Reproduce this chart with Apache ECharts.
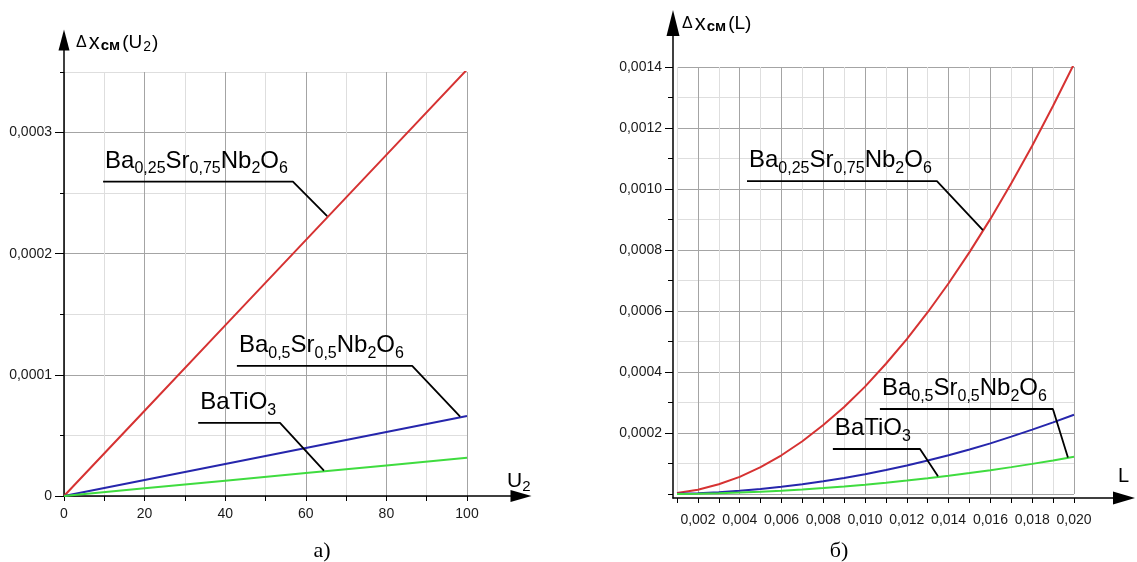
<!DOCTYPE html>
<html><head><meta charset="utf-8">
<script src="https://cdn.jsdelivr.net/npm/echarts@6/dist/echarts.min.js"></script>
<style>html,body{margin:0;padding:0;background:#fff}#c{width:1137px;height:562px}</style>
</head><body><div id="c"></div>
<script>
const FONT = '"Liberation Sans", Arial, sans-serif';
const SERIF = '"Liberation Serif", "Times New Roman", serif';

// ---- chart а): Δx_см(U2) ----
const uValues = [0, 20, 40, 60, 80, 100];
const uRed   = [0, 0.0000704, 0.0001408, 0.0002112, 0.0002816, 0.000352];
const uBlue  = [0, 0.0000132, 0.0000264, 0.0000396, 0.0000528, 0.000066];
const uGreen = [0, 0.0000063, 0.0000126, 0.0000189, 0.0000252, 0.0000315];
const uTickValues = [0, 20, 40, 60, 80, 100];
const uTickLabels = ['0', '20', '40', '60', '80', '100'];
const leftYTickValues = [0, 0.0001, 0.0002, 0.0003];
const leftYTickLabels = ['0', '0,0001', '0,0002', '0,0003'];

// ---- chart б): Δx_см(L) ----
const lValues = [0.001,0.002,0.003,0.004,0.005,0.006,0.007,0.008,0.009,0.010,0.011,0.012,0.013,0.014,0.015,0.016,0.017,0.018,0.019,0.020];
const lRed   = [0.0000035,0.000014,0.000032,0.000056,0.000088,0.000127,0.000173,0.000226,0.000285,0.000352,0.000427,0.000508,0.000596,0.000691,0.000793,0.000902,0.001019,0.001142,0.001273,0.00141];
const lBlue  = [0.0000007,0.0000026,0.0000059,0.0000104,0.0000163,0.0000234,0.0000319,0.0000416,0.0000527,0.000065,0.0000787,0.0000936,0.00011,0.000127,0.000146,0.000166,0.000188,0.000211,0.000235,0.00026];
const lGreen = [0.0000003,0.0000012,0.0000027,0.0000049,0.0000076,0.000011,0.0000149,0.0000195,0.0000247,0.0000305,0.0000369,0.0000439,0.0000515,0.0000598,0.0000686,0.0000781,0.0000881,0.0000988,0.00011,0.000122];
const lTickValues = [0.002,0.004,0.006,0.008,0.010,0.012,0.014,0.016,0.018,0.020];
const lTickLabels = ['0,002','0,004','0,006','0,008','0,010','0,012','0,014','0,016','0,018','0,020'];
const rightYTickValues = [0.0002,0.0004,0.0006,0.0008,0.0010,0.0012,0.0014];
const rightYTickLabels = ['0,0002','0,0004','0,0006','0,0008','0,0010','0,0012','0,0014'];

// ---- annotations (data coordinates: underline start, underline end, leader end) ----
const annLeft25 = [[9.7, 0.0002595], [56.8, 0.0002595], [65.3, 0.000231]];
const annLeft05 = [[42.9, 0.0001074], [86.4, 0.0001074], [98.3, 0.0000655]];
const annLeftBT = [[33.3, 0.0000603], [53.6, 0.0000603], [64.5, 0.0000210]];
const annRight25 = [[0.00435, 0.001026], [0.01344, 0.001026], [0.01564, 0.000865]];
const annRight05 = [[0.01071, 0.0002787], [0.01899, 0.0002787], [0.01971, 0.000120]];
const annRightBT = [[0.00846, 0.0001475], [0.01263, 0.0001475], [0.01349, 0.000058]];

const F25 = '{m|Ba}{s|0,25}{m|Sr}{s|0,75}{m|Nb}{s|2}{m|O}{s|6}';
const F05 = '{m|Ba}{s|0,5}{m|Sr}{s|0,5}{m|Nb}{s|2}{m|O}{s|6}';
const FBT = '{m|BaTiO}{s|3}';

const RED = '#d63232', BLUE = '#2626ac', GREEN = '#3fdc3f';
const DARK = '#a4a4a4', LIGHT = '#dedede';

function fmt(values, labels) {
  return function (v) {
    for (let i = 0; i < values.length; i++) {
      if (Math.abs(values[i] - v) < Math.abs(values[1] - values[0]) * 1e-3 + 1e-12) return labels[i];
    }
    return '';
  };
}
function pairs(xs, ys) { return xs.map((x, i) => [x, ys[i]]); }

const labelStyle = { fontFamily: FONT, fontSize: 14, color: '#1a1a1a' };
function overlayAxis(size) {
  return {
    type: 'value', min: 0, max: 1,
    axisLine: { show: true, onZero: false, symbol: ['none', 'triangle'], symbolSize: size,
      lineStyle: { color: '#000', width: 1.5 } },
    axisTick: { show: false }, axisLabel: { show: false }, splitLine: { show: false }
  };
}
function curve(name, data, color, xi, yi) {
  return { name, type: 'line', data, xAxisIndex: xi, yAxisIndex: yi, showSymbol: false, symbol: 'none',
    lineStyle: { color, width: 2 }, itemStyle: { color }, silent: true, animation: false, z: 3 };
}
function ann(pts, xi, yi) {
  return { type: 'line', data: pts, xAxisIndex: xi, yAxisIndex: yi, symbol: 'none', silent: true,
    animation: false, lineStyle: { color: '#000', width: 1.8 }, z: 5 };
}

const chart = echarts.init(document.getElementById('c'), null, { renderer: 'canvas' });
chart.setOption({
  backgroundColor: '#fff',
  animation: false,
  grid: [
    { left: 64, top: 72, width: 403, height: 424 },
    { left: 64, top: 40, width: 457, height: 456 },
    { left: 677, top: 67, width: 397, height: 427 },
    { left: 673, top: 23, width: 451, height: 475 }
  ],
  xAxis: [
    { gridIndex: 0, type: 'value', position: 'bottom', min: 0, max: 100, interval: 10,
      axisLine: { show: false, onZero: false }, axisTick: { show: true, length: 5, lineStyle: { color: '#000' } },
      axisLabel: Object.assign({ margin: 11, formatter: fmt(uTickValues, uTickLabels) }, labelStyle),
      splitLine: { show: true, lineStyle: { color: [DARK, LIGHT], width: 1 } } },
    Object.assign({ gridIndex: 1, position: 'bottom' }, overlayAxis([12, 21])),
    { gridIndex: 2, type: 'value', position: 'bottom', min: 0.001, max: 0.020, interval: 0.001, offset: 4,
      axisLine: { show: false, onZero: false }, axisTick: { show: true, length: 5, lineStyle: { color: '#000' } },
      axisLabel: Object.assign({ margin: 15, formatter: fmt(lTickValues, lTickLabels) }, labelStyle),
      splitLine: { show: true, lineStyle: { color: [LIGHT, DARK], width: 1 } } },
    Object.assign({ gridIndex: 3, position: 'bottom' }, overlayAxis([13, 22]))
  ],
  yAxis: [
    { gridIndex: 0, type: 'value', position: 'left', min: 0, max: 0.00035, interval: 0.00005,
      axisLine: { show: false, onZero: false }, axisTick: { show: true, length: 4, lineStyle: { color: '#000' } },
      axisLabel: { show: false },
      splitLine: { show: true, lineStyle: { color: [DARK, LIGHT], width: 1 } } },
    { gridIndex: 0, type: 'value', position: 'left', min: 0, max: 0.00035,
      axisLine: { show: false, onZero: false },
      axisTick: { show: true, length: 9, customValues: leftYTickValues, lineStyle: { color: '#000' } },
      axisLabel: Object.assign({ margin: 12, customValues: leftYTickValues, formatter: fmt(leftYTickValues, leftYTickLabels) }, labelStyle),
      splitLine: { show: false } },
    Object.assign({ gridIndex: 1, position: 'left' }, overlayAxis([11, 21])),
    { gridIndex: 2, type: 'value', position: 'left', min: 0, max: 0.0014, interval: 0.0001, offset: 4,
      axisLine: { show: false, onZero: false }, axisTick: { show: true, length: 5, lineStyle: { color: '#000' } },
      axisLabel: { show: false },
      splitLine: { show: true, lineStyle: { color: [DARK, LIGHT], width: 1 } } },
    { gridIndex: 2, type: 'value', position: 'left', min: 0, max: 0.0014, offset: 4,
      axisLine: { show: false, onZero: false },
      axisTick: { show: true, length: 8, customValues: rightYTickValues, lineStyle: { color: '#000' } },
      axisLabel: Object.assign({ margin: 11, customValues: rightYTickValues, formatter: fmt(rightYTickValues, rightYTickLabels) }, labelStyle),
      splitLine: { show: false } },
    Object.assign({ gridIndex: 3, position: 'left' }, overlayAxis([13, 26]))
  ],
  series: [
    curve('Ba0,25Sr0,75Nb2O6', pairs(uValues, uRed), RED, 0, 0),
    curve('Ba0,5Sr0,5Nb2O6', pairs(uValues, uBlue), BLUE, 0, 0),
    curve('BaTiO3', pairs(uValues, uGreen), GREEN, 0, 0),
    curve('Ba0,25Sr0,75Nb2O6 (L)', pairs(lValues, lRed), RED, 2, 3),
    curve('Ba0,5Sr0,5Nb2O6 (L)', pairs(lValues, lBlue), BLUE, 2, 3),
    curve('BaTiO3 (L)', pairs(lValues, lGreen), GREEN, 2, 3),
    ann(annLeft25, 0, 0), ann(annLeft05, 0, 0), ann(annLeftBT, 0, 0),
    ann(annRight25, 2, 3), ann(annRight05, 2, 3), ann(annRightBT, 2, 3)
  ]
});

const formulaRich = {
  m: { fontSize: 24, fontFamily: FONT, fill: '#000', color: '#000' },
  s: { fontSize: 16, fontFamily: FONT, fill: '#000', color: '#000', padding: [16, 0, 0, 0] }
};
function formulaText(text, pts, xi, yi) {
  const p = chart.convertToPixel({ xAxisIndex: xi, yAxisIndex: yi }, pts[0]);
  return { type: 'text', x: p[0] + 2, y: p[1] - 4.6, silent: true, z: 10,
    style: { text, rich: formulaRich, align: 'left', verticalAlign: 'bottom',
      textAlign: 'left', textVerticalAlign: 'bottom', fill: '#000' } };
}
const nameRich = {
  d: { fontSize: 16, fontFamily: FONT, fill: '#000', padding: [0, 2, 0, 0] },
  x: { fontSize: 22, fontFamily: FONT, fill: '#000' },
  c: { fontSize: 15, fontFamily: FONT, fontWeight: 'bold', fill: '#000', padding: [5, 2, 0, 1] },
  p: { fontSize: 19, fontFamily: FONT, fill: '#000' },
  s: { fontSize: 14, fontFamily: FONT, fill: '#000', padding: [8, 1, 0, 1] }
};
const axRich = {
  u: { fontSize: 21, fontFamily: FONT, fill: '#000' },
  s: { fontSize: 15, fontFamily: FONT, fill: '#000', padding: [10, 0, 0, 0] },
  l: { fontSize: 20, fontFamily: FONT, fill: '#000' }
};
chart.setOption({
  graphic: [
    formulaText(F25, annLeft25, 0, 0),
    formulaText(F05, annLeft05, 0, 0),
    formulaText(FBT, annLeftBT, 0, 0),
    formulaText(F25, annRight25, 2, 3),
    formulaText(F05, annRight05, 2, 3),
    formulaText(FBT, annRightBT, 2, 3),
    { type: 'text', x: 76, y: 54, silent: true,
      style: { text: '{d|Δ}{x|x}{c|см}{p|(U}{s|2}{p|)}', rich: nameRich, align: 'left', verticalAlign: 'bottom', textAlign: 'left', textVerticalAlign: 'bottom' } },
    { type: 'text', x: 682, y: 35, silent: true,
      style: { text: '{d|Δ}{x|x}{c|см}{p|(L)}', rich: nameRich, align: 'left', verticalAlign: 'bottom', textAlign: 'left', textVerticalAlign: 'bottom' } },
    { type: 'text', x: 507, y: 494, silent: true,
      style: { text: '{u|U}{s|2}', rich: axRich, align: 'left', verticalAlign: 'bottom', textAlign: 'left', textVerticalAlign: 'bottom' } },
    { type: 'text', x: 1118, y: 486, silent: true,
      style: { text: '{l|L}', rich: axRich, align: 'left', verticalAlign: 'bottom', textAlign: 'left', textVerticalAlign: 'bottom' } },
    { type: 'text', x: 322, y: 562, silent: true,
      style: { text: 'а)', font: '22px ' + SERIF, fill: '#000', align: 'center', verticalAlign: 'bottom', textAlign: 'center', textVerticalAlign: 'bottom' } },
    { type: 'text', x: 839, y: 562, silent: true,
      style: { text: 'б)', font: '22px ' + SERIF, fill: '#000', align: 'center', verticalAlign: 'bottom', textAlign: 'center', textVerticalAlign: 'bottom' } }
  ]
});
</script>
</body></html>
